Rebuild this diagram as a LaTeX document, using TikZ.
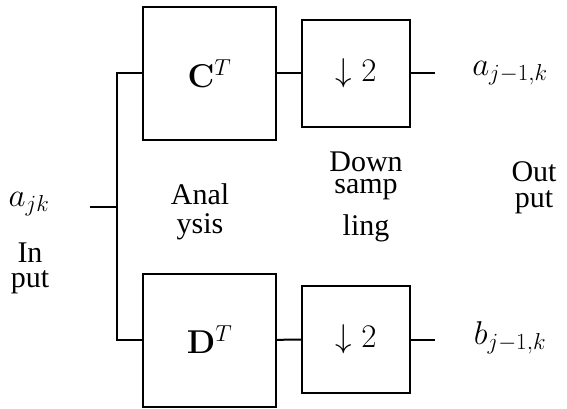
\RequirePackage{fix-cm}
\documentclass[tikz,border=0pt]{standalone}
\usepackage[no-math]{fontspec}
\setmainfont{Liberation Serif}
\begin{document}
\begin{tikzpicture}[x=1pt,y=-1pt,line width=2pt,
  mathfont/.style={font=\fontsize{33}{35}\selectfont},
  bigbox/.style={draw,minimum width=133pt,minimum height=133pt,inner sep=0pt,mathfont},
  smallbox/.style={draw,minimum width=108pt,minimum height=107pt,inner sep=0pt,mathfont},
  lbl/.style={inner sep=0pt,align=center},
  wire/.style={line width=2pt}]
\useasboundingbox (0,0) rectangle (567,409);
\node[bigbox] (C) at (209.5,73.5) {$\mathbf{C}^T$};
\node[smallbox] (DS1) at (356,73.5) {$\downarrow 2$};
\node[bigbox] (D) at (209.5,340) {$\mathbf{D}^T$};
\node[smallbox] (DS2) at (356,339.5) {$\downarrow 2$};
\coordinate (in) at (90,207);
\coordinate (split) at (117,207);
\coordinate (o1) at (435,73.5);
\coordinate (o2) at (435,339.5);
\draw[wire] (in) -- (split);
\draw[wire] (C.west) -| (split) |- (D.west);
\draw[wire] (C) -- (DS1);
\draw[wire] (D) -- (DS2);
\draw[wire] (DS1) -- (o1);
\draw[wire] (DS2) -- (o2);
\node[lbl,mathfont] (a1) at (510,73) {$a_{j-1,k}$};
\node[lbl,mathfont] (b1) at (510,338) {$b_{j-1,k}$};
\node[lbl,mathfont] (ajk) at (29,204) {$a_{jk}$};
\node[lbl,font=\fontsize{30}{25}\selectfont] (inp) at (30,268) {In\\put};
\node[lbl,font=\fontsize{30}{29}\selectfont] (ana) at (200,212) {Anal\\ysis};
\node[lbl,font=\fontsize{30}{22}\selectfont] (down) at (366,197) {Down\\samp\\[13pt]ling};
\node[lbl,font=\fontsize{30}{26}\selectfont] (outp) at (534,188) {Out\\put};
\end{tikzpicture}
\end{document}
